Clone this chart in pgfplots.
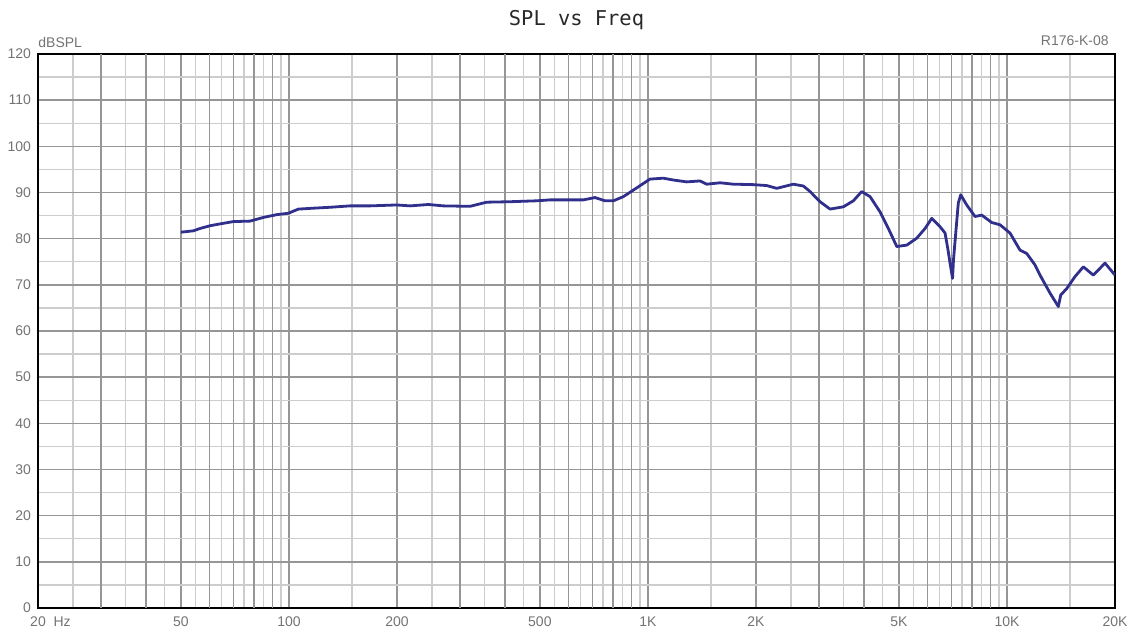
\documentclass[border=0pt]{standalone}
\usepackage{fontspec}
\setmainfont{Liberation Sans}
\newfontfamily\titlefont{DejaVu Sans Mono}
\usepackage{pgfplots}
\pgfplotsset{compat=1.18}
\definecolor{curve}{RGB}{48,48,140}
\definecolor{majgrid}{RGB}{150,150,150}
\definecolor{mingrid}{RGB}{205,205,205}
\definecolor{lbl}{RGB}{115,115,115}
\definecolor{ttl}{RGB}{40,40,40}
\begin{document}
\begin{tikzpicture}
\begin{axis}[name=ax, xmode=log, scale only axis, width=538.5pt, height=277pt,
 xmin=20, xmax=20000, ymin=0, ymax=120,
 xtick={20,50,100,200,500,1000,2000,5000,10000,20000},
 xticklabels={20\rlap{\ \ Hz},50,100,200,500,1K,2K,5K,10K,20K},
 extra x ticks={30,40,60,70,80,90,300,400,600,700,800,900,3000,4000,6000,7000,8000,9000},
 extra x tick labels={},
 extra x tick style={grid=major},
 minor xtick={25,35,45,55,65,75,85,95,150,250,350,450,550,650,750,850,950,1500,2500,3500,4500,5500,6500,7500,8500,9500,15000},
 ytick={0,10,...,120}, minor ytick={5,15,...,115},
 grid=both,
 major grid style={majgrid, line width=0.75pt},
 minor grid style={mingrid, line width=0.7pt},
 major tick length=0pt, minor tick length=0pt,
 axis line style={black, line width=1.2pt},
 tick label style={font=\fontsize{7}{8}\selectfont, text=lbl},
 /pgf/number format/assume math mode=true,
 xticklabel style={yshift=-1pt},
]
\addplot[curve, line width=1.4pt, line join=round, mark=none] coordinates {
(50,81.4) (54.2,81.7) (56.5,82.2) (60.3,82.8) (64.3,83.2) (70,83.7) (77.9,83.8)
(84.9,84.6) (92.5,85.2) (99.6,85.5) (106.2,86.4) (116.9,86.6) (130.2,86.8)
(147.9,87.1) (168.2,87.1) (199.6,87.3) (217.4,87.1) (244.6,87.4) (269.2,87.1)
(319.4,87.0) (355.6,87.9) (412.8,88.0) (489.8,88.2) (533.6,88.4) (660.6,88.4)
(712.2,88.9) (759.4,88.2) (801,88.2) (854,89.1) (930.6,91.0) (1013,92.9)
(1104,93.1) (1177,92.7) (1282,92.3) (1396,92.5) (1458,91.8) (1588,92.1)
(1729,91.8) (1966,91.7) (2142,91.5) (2284,90.9) (2540,91.8) (2710,91.4)
(2829,90.2) (3016,88.0) (3216,86.4) (3502,86.9) (3734,88.2) (3940,90.2)
(4156,89.1) (4431,85.8) (4674,82.2) (4932,78.3) (5259,78.6) (5606,80.1)
(5913,82.2) (6172,84.4) (6510,82.6) (6724,81.2) (6854,77.5) (6942,74.7)
(7054,71.4) (7098,75.5) (7213,81.9) (7320,87.7) (7435,89.5) (7726,87.3)
(8148,84.8) (8506,85.1) (9070,83.5) (9566,83.0) (10200,81.2) (10876,77.5)
(11350,76.8) (11972,74.3) (12362,72.1) (13183,68.2) (13903,65.3) (14120,67.8)
(14676,69.2) (15476,71.8) (16322,73.9) (17402,72.1) (18757,74.7) (20000,72.1)
};
\end{axis}
\node[anchor=base, font=\titlefont\fontsize{10.2}{12}\selectfont, text=ttl] at ([yshift=14pt]ax.north) {SPL vs Freq};
\node[anchor=base west, inner sep=0pt, font=\fontsize{7}{8}\selectfont, text=lbl] at ([yshift=3pt]ax.north west) {dBSPL};
\node[anchor=base east, inner sep=0pt, font=\fontsize{7}{8}\selectfont, text=lbl] at ([shift={(-3pt,4pt)}]ax.north east) {R176-K-08};
\pgfresetboundingbox
\path[use as bounding box] ([shift={(-19pt,-11pt)}]ax.south west) rectangle ([shift={(6.5pt,27pt)}]ax.north east);
\end{tikzpicture}
\end{document}
